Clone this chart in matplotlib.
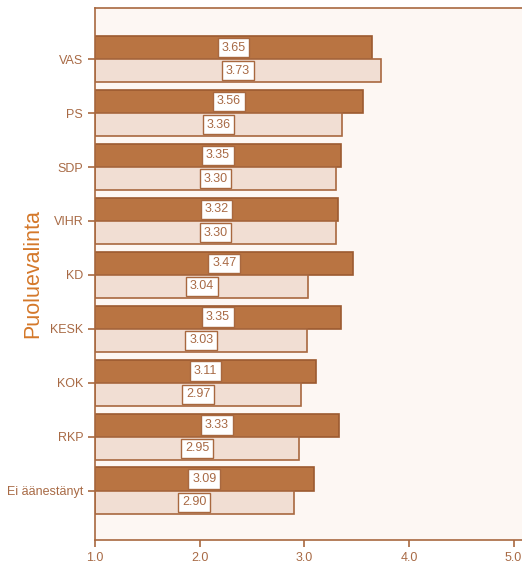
import matplotlib
matplotlib.use('Agg')
import matplotlib.pyplot as plt
import numpy as np

plt.rcParams['font.family'] = ['Liberation Sans', 'DejaVu Sans']

parties = ['VAS', 'PS', 'SDP', 'VIHR', 'KD', 'KESK', 'KOK', 'RKP', 'Ei äänestänyt']
dark_vals = [3.65, 3.56, 3.35, 3.32, 3.47, 3.35, 3.11, 3.33, 3.09]
light_vals = [3.73, 3.36, 3.30, 3.30, 3.04, 3.03, 2.97, 2.95, 2.90]
xticks = [1.0, 2.0, 3.0, 4.0, 5.0]

brown = '#a8683f'
dark_col = '#b97442'
light_col = '#f1ded3'
text_col = '#a86a45'

fig = plt.figure(figsize=(5.22, 5.64), dpi=100)
fig.patch.set_facecolor('white')
ax = fig.add_axes([0.182, 0.043, 0.83, 0.943])
ax.set_facecolor('#fdf7f3')

y = np.arange(len(parties))
h = 0.43
base = 1.0
dvals = np.array(dark_vals)
lvals = np.array(light_vals)

ax.barh(y - h / 2, dvals - base, left=base, height=h, color=dark_col,
        edgecolor='#9c5a30', linewidth=1.2)
ax.barh(y + h / 2, lvals - base, left=base, height=h, color=light_col,
        edgecolor=brown, linewidth=1.2)

box = dict(boxstyle='square,pad=0.3', fc='white', ec=brown, lw=1.0)
for i in range(len(parties)):
    ax.text((base + dvals[i]) / 2, y[i] - h / 2, f'{dvals[i]:.2f}', ha='center',
            va='center', fontsize=9, color=text_col, bbox=box)
    ax.text((base + lvals[i]) / 2, y[i] + h / 2, f'{lvals[i]:.2f}', ha='center',
            va='center', fontsize=9, color=text_col, bbox=box)

ax.set_xlim(1.0, 5.14)
ax.set_ylim(len(parties) - 1 + 0.91, -0.95)
ax.set_yticks(y)
ax.set_yticklabels(parties)
ax.set_xticks(xticks)
ax.set_xticklabels([f'{t:.1f}' for t in xticks])

for s in ['left', 'bottom', 'top']:
    ax.spines[s].set_color(brown)
    ax.spines[s].set_linewidth(1.2)
ax.spines['right'].set_visible(False)

ax.tick_params(axis='both', colors=brown, labelcolor=text_col, labelsize=9,
               length=5, width=1.2)
ax.set_ylabel('Puoluevalinta', fontsize=15.5, color='#d4782a')
ax.yaxis.set_label_coords(-0.12, 0.5)

fig.savefig('out.png', dpi=100, facecolor=fig.get_facecolor())
